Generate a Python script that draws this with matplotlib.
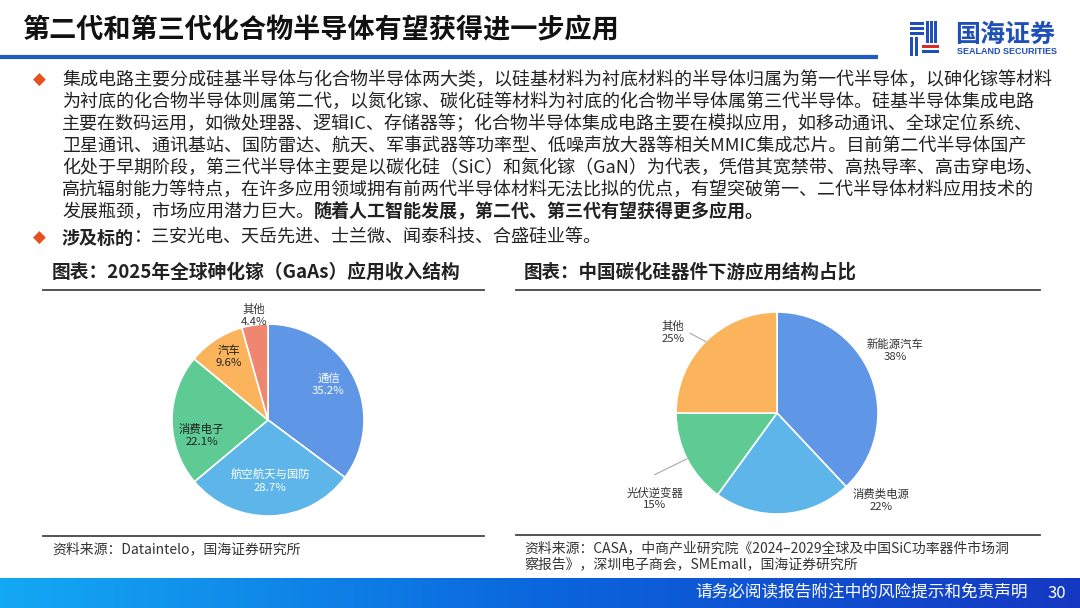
import matplotlib.pyplot as plt
import numpy as np
from matplotlib.colors import LinearSegmentedColormap
from matplotlib.patches import Rectangle

plt.rcParams['font.family'] = ['Noto Sans CJK SC', 'DejaVu Sans']

# ---- data ----
gaas_labels = ['通信', '航空航天与国防', '消费电子', '汽车', '其他']
gaas_values = [35.2, 28.7, 22.1, 9.6, 4.4]
sic_labels = ['新能源汽车', '消费类电源', '光伏逆变器', '其他']
sic_values = [38, 22, 15, 25]

title = '第二代和第三代化合物半导体有望获得进一步应用'
body_lines = [
    '集成电路主要分成硅基半导体与化合物半导体两大类，以硅基材料为衬底材料的半导体归属为第一代半导体，以砷化镓等材料',
    '为衬底的化合物半导体则属第二代，以氮化镓、碳化硅等材料为衬底的化合物半导体属第三代半导体。硅基半导体集成电路',
    '主要在数码运用，如微处理器、逻辑IC、存储器等；化合物半导体集成电路主要在模拟应用，如移动通讯、全球定位系统、',
    '卫星通讯、通讯基站、国防雷达、航天、军事武器等功率型、低噪声放大器等相关MMIC集成芯片。目前第二代半导体国产',
    '化处于早期阶段，第三代半导体主要是以碳化硅（SiC）和氮化镓（GaN）为代表，凭借其宽禁带、高热导率、高击穿电场、',
    '高抗辐射能力等特点，在许多应用领域拥有前两代半导体材料无法比拟的优点，有望突破第一、二代半导体材料应用技术的',
]
last_normal = '发展瓶颈，市场应用潜力巨大。'
last_bold = '随着人工智能发展，第二代、第三代有望获得更多应用。'
bullet2_bold = '涉及标的'
bullet2_text = '：三安光电、天岳先进、士兰微、闻泰科技、合盛硅业等。'
chart1_title = '图表：2025年全球砷化镓（GaAs）应用收入结构'
chart2_title = '图表：中国碳化硅器件下游应用结构占比'
source1 = '资料来源：Dataintelo，国海证券研究所'
source2 = ['资料来源：CASA，中商产业研究院《2024–2029全球及中国SiC功率器件市场洞',
           '察报告》，深圳电子商会，SMEmall，国海证券研究所']
footer = '请务必阅读报告附注中的风险提示和免责声明'
page_no = '30'

# ---- style ----
c_blue = '#6096E6'
c_sky = '#5DB5EA'
c_green = '#5ECB95'
c_orange = '#FBB45C'
c_salmon = '#EE8670'
txt = '#222222'

fig = plt.figure(figsize=(10.8, 6.08), dpi=100)
bg = fig.add_axes([0, 0, 1, 1])
bg.set_xlim(0, 1080)
bg.set_ylim(608, 0)
bg.axis('off')

# header
bg.text(22, 30, title, fontsize=19.5, fontweight='bold', color='#111111', va='center')
bg.plot([0, 878], [57, 57], color='#1E5CC8', lw=3, solid_capstyle='butt')

# logo
logo_blue = '#1F4FB8'
for x0, y0, w, h, c in [(910, 22, 14, 3, logo_blue), (910, 27, 14, 3, logo_blue),
                        (910, 32, 14, 3, logo_blue), (910, 37, 3, 19, logo_blue),
                        (915, 37, 3, 19, logo_blue), (926, 21, 3, 22, logo_blue),
                        (930, 21, 3, 22, logo_blue), (934, 21, 3, 22, logo_blue),
                        (922, 45, 17, 3, '#D92B2B'), (922, 50, 17, 3, logo_blue)]:
    bg.add_patch(Rectangle((x0, y0), w, h, color=c, lw=0))
bg.text(955, 35, '国海证券', fontsize=18, fontweight='bold', color=logo_blue, va='center')
bg.text(957, 51.5, 'SEALAND SECURITIES', fontsize=6.5, fontweight='bold', color=logo_blue,
        va='center', family=['Liberation Sans Narrow', 'Liberation Sans', 'DejaVu Sans'])

# body text
r = fig.canvas.get_renderer()
y = 80
bg.text(33, y, '◆', fontsize=12, color='#E8501E', va='center', family=['DejaVu Sans'])
for line in body_lines:
    bg.text(62, y, line, fontsize=13, color=txt, va='center')
    y += 22
t = bg.text(62, y, last_normal, fontsize=13, color=txt, va='center')
w = t.get_window_extent(renderer=r).width
bg.text(62 + w, y, last_bold, fontsize=13, color=txt, va='center', fontweight='bold')

y2 = 238
bg.text(33, y2, '◆', fontsize=12, color='#E8501E', va='center', family=['DejaVu Sans'])
t = bg.text(62, y2, bullet2_bold, fontsize=13, color=txt, va='center', fontweight='bold')
w = t.get_window_extent(renderer=r).width
bg.text(62 + w, y2, bullet2_text, fontsize=13, color=txt, va='center')

# chart panels
bg.text(52, 272, chart1_title, fontsize=13.5, fontweight='bold', color=txt, va='center')
bg.plot([43, 484], [290, 290], color='#444444', lw=1.3)
bg.plot([43, 484], [536, 536], color='#444444', lw=1.3)
bg.text(52, 549, source1, fontsize=10, color='#333333', va='center')

bg.text(524, 272, chart2_title, fontsize=13.3, fontweight='bold', color=txt, va='center')
bg.plot([516, 1040], [290, 290], color='#444444', lw=1.3)
bg.plot([516, 1040], [535, 535], color='#444444', lw=1.3)
bg.text(524, 548, source2[0], fontsize=10, color='#333333', va='center')
bg.text(524, 564, source2[1], fontsize=10, color='#333333', va='center')

# footer gradient
cmap = LinearSegmentedColormap.from_list('ft', ['#14A9F4', '#0B66DD', '#1538C2'])
bg.imshow(np.linspace(0, 1, 256).reshape(1, -1), cmap=cmap, aspect='auto',
          extent=[0, 1080, 608, 578], zorder=0)
bg.set_xlim(0, 1080)
bg.set_ylim(608, 0)
bg.text(1028, 593, footer, fontsize=12, color='white', va='center', ha='right')
bg.text(1066, 593, page_no, fontsize=12, color='white', va='center', ha='right')


def pie_axes(cx, cy, R, k):
    size = 2 * R * k
    ax = fig.add_axes([(cx - size / 2) / 1080, (608 - cy - size / 2) / 608,
                       size / 1080, size / 608])
    return ax


# pie 1: GaAs
ax1 = pie_axes(268, 420, 96, 1.5)
ax1.pie(gaas_values, colors=[c_blue, c_sky, c_green, c_orange, c_salmon],
        startangle=90, counterclock=False, radius=1,
        wedgeprops=dict(edgecolor='white', linewidth=1.2))
ax1.set_xlim(-1.5, 1.5)
ax1.set_ylim(-1.5, 1.5)
ax1.set_aspect('equal')
ax1.axis('off')
pos1 = [(0.63, 0.37), (0.02, -0.64), (-0.69, -0.16), (-0.41, 0.66), (-0.15, 1.09)]
col1 = ['white', 'white', txt, txt, '#333333']
for lab, v, (lx, ly), c in zip(gaas_labels, gaas_values, pos1, col1):
    ax1.text(lx, ly, f'{lab}\n{v:.1f}%', ha='center', va='center', fontsize=8.2,
             color=c, linespacing=1.25)

# pie 2: SiC
ax2 = pie_axes(777, 413, 101, 1.6)
wedges, _ = ax2.pie(sic_values, colors=[c_blue, c_sky, c_green, c_orange],
                    startangle=90, counterclock=False, radius=1,
                    wedgeprops=dict(edgecolor='white', linewidth=1.2))
ax2.set_xlim(-1.6, 1.6)
ax2.set_ylim(-1.6, 1.6)
ax2.set_aspect('equal')
ax2.axis('off')
pos2 = [(1.17, 0.62), (1.03, -0.87), (-1.21, -0.85), (-1.03, 0.80)]
leader_end = [None, None, (-1.21, -0.61), (-0.86, 0.79)]
for wdg, lab, v, (lx, ly), le in zip(wedges, sic_labels, sic_values, pos2, leader_end):
    ax2.text(lx, ly, f'{lab}\n{v}%', ha='center', va='center', fontsize=8.2,
             color='#333333', linespacing=1.25)
    if le is not None:
        mid = np.deg2rad((wdg.theta1 + wdg.theta2) / 2)
        ax2.plot([np.cos(mid), le[0]], [np.sin(mid), le[1]], color='#A8A8A8', lw=0.8)

fig.savefig('out.png', dpi=100)
